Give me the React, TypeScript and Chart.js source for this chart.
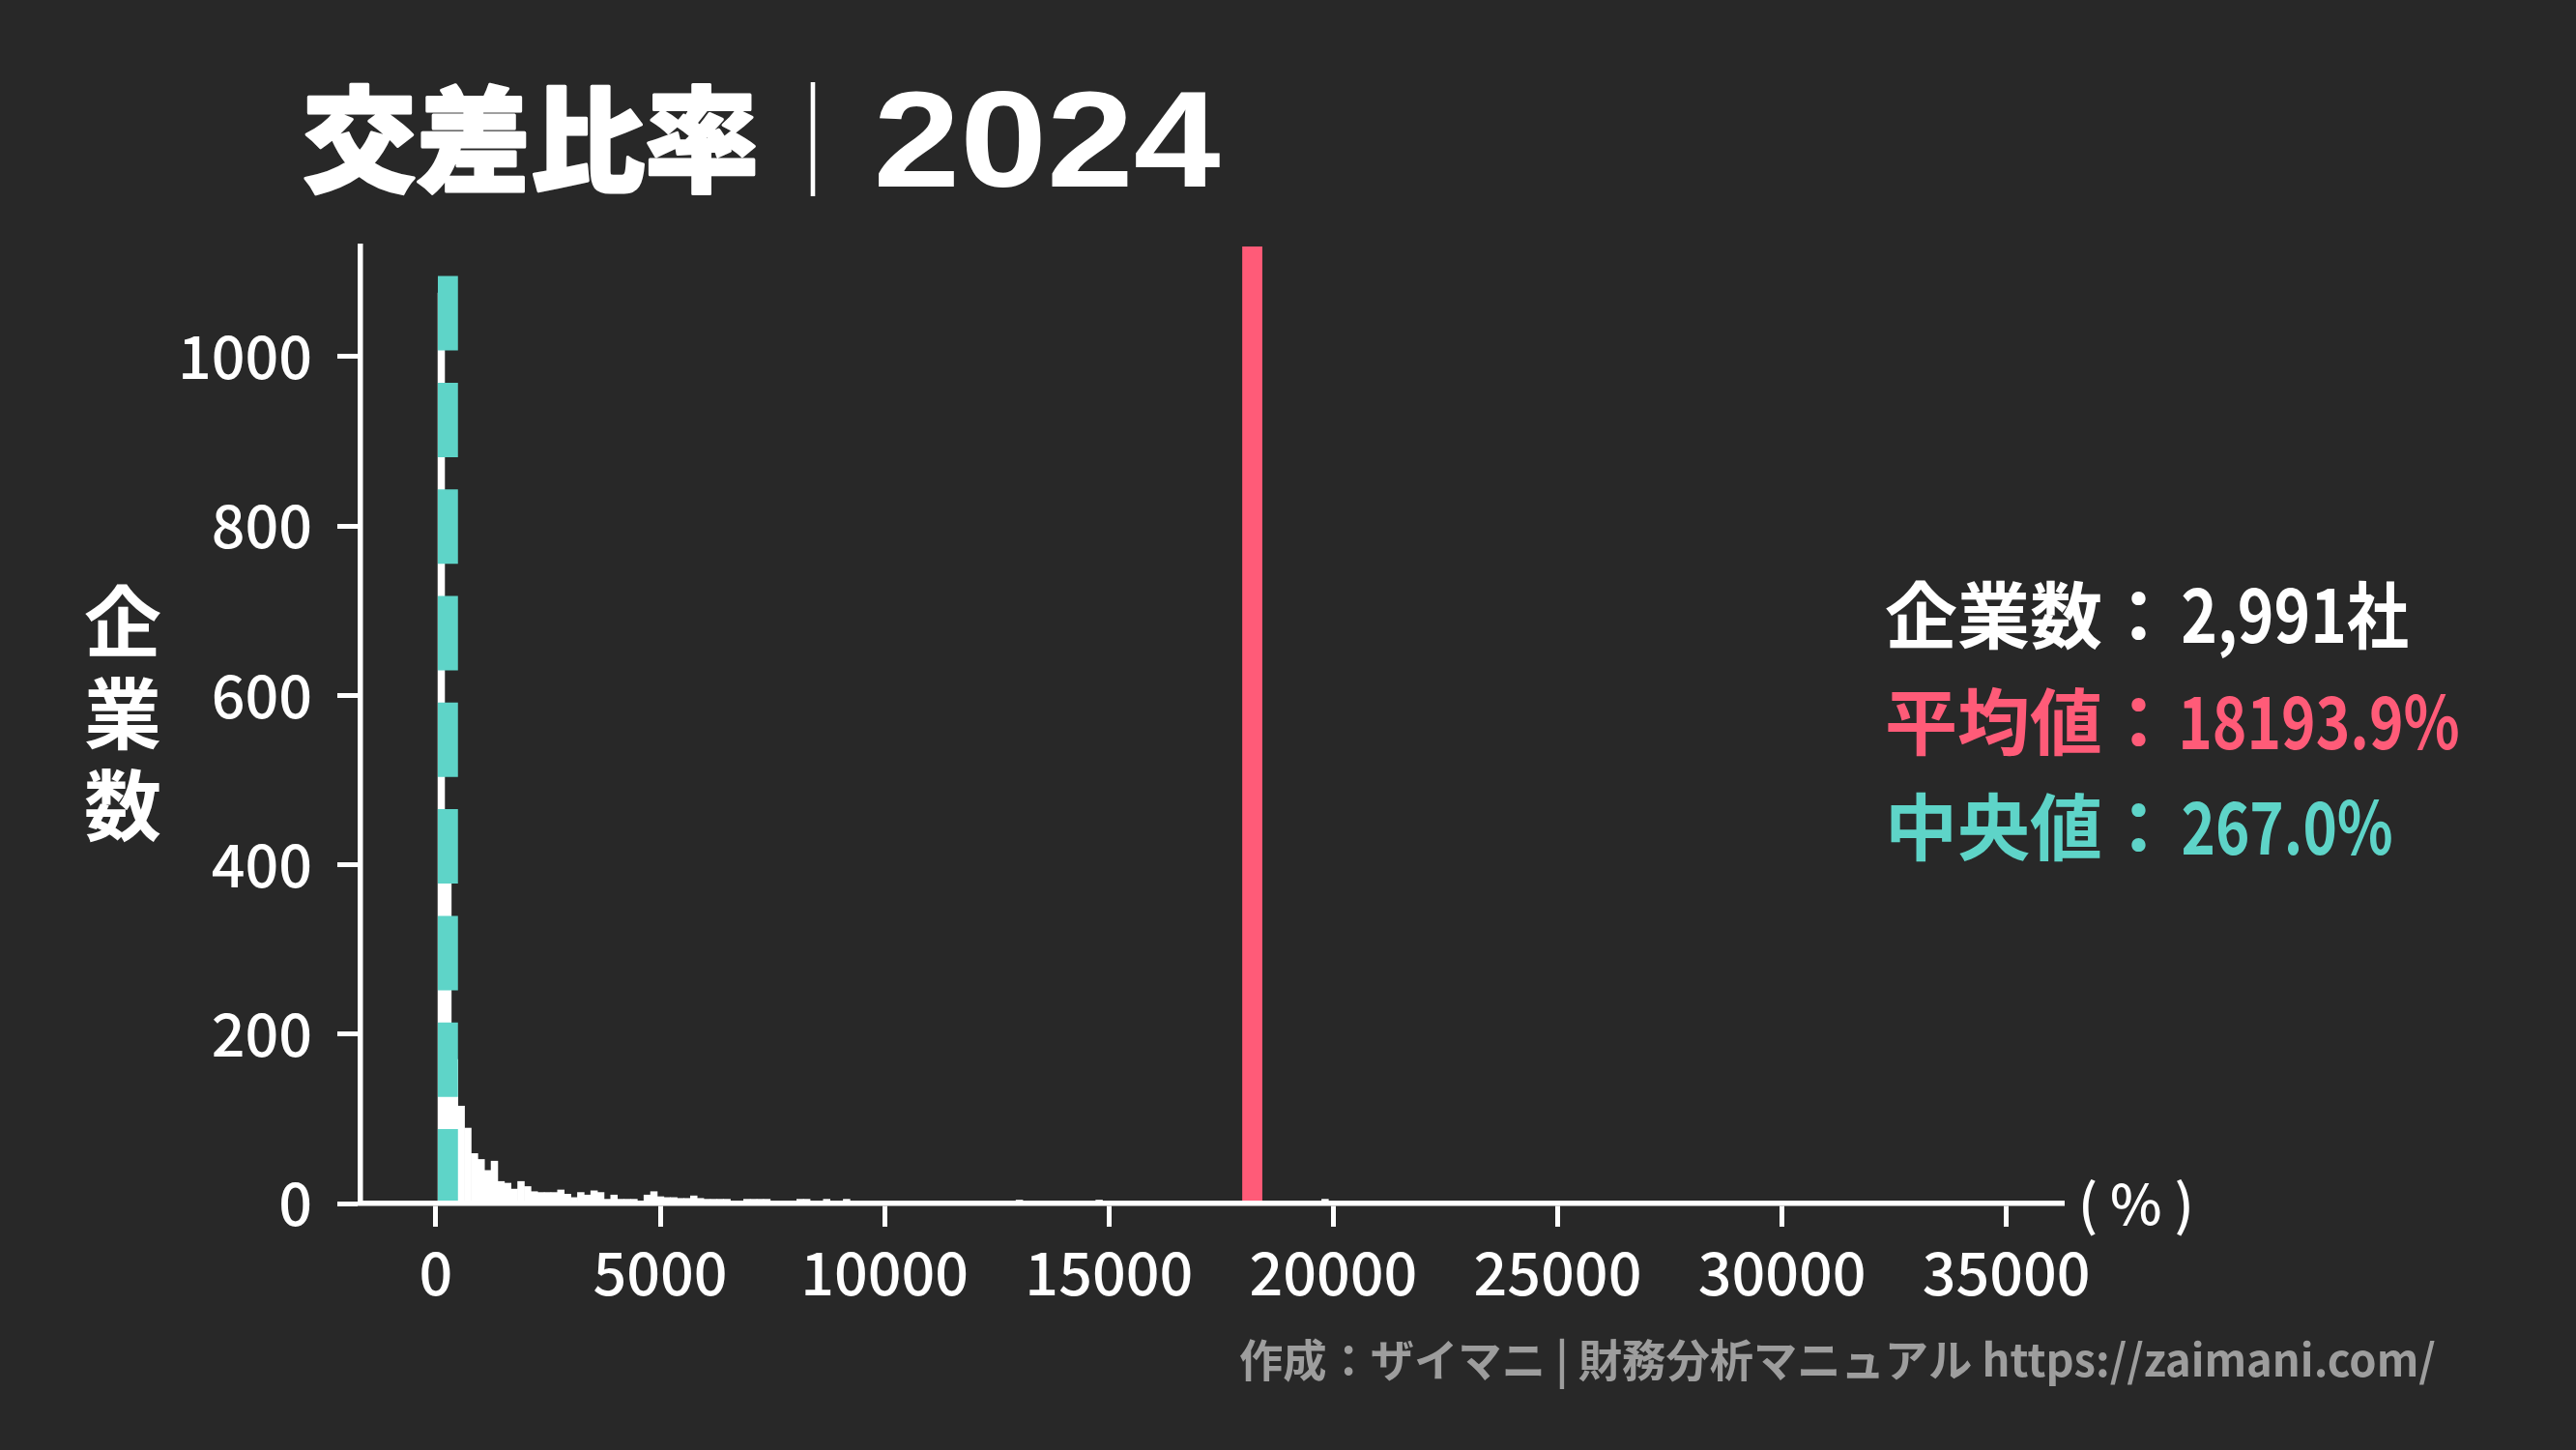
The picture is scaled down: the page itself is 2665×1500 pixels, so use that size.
import React, { useEffect, useRef } from 'react';
import { Chart, registerables } from 'chart.js';

Chart.register(...registerables);

// ---------------- data ----------------
const titleText = '交差比率｜2024';
const yAxisTitle = '企業数';
const xAxisUnit = '( % )';
const footerText = '作成：ザイマニ | 財務分析マニュアル https://zaimani.com/';

const binStart = 45; // left edge of the first histogram bin (%)
const binWidth = 148.1; // width of one bin (%)
const binCounts = [
  // 0-9
  1075, 460, 170, 115, 89, 59, 52, 39, 50, 26,
  // 10-19
  24, 17, 26, 20, 14, 13, 13, 13, 16, 11,
  // 20-29
  7, 13, 10, 15, 13, 5, 10, 5, 5, 5,
  // 30-39
  3, 10, 14, 8, 7, 7, 6, 6, 9, 6,
  // 40-49
  5, 5, 5, 5, 3, 3, 5, 5, 5, 5,
  // 50-59
  3, 3, 3, 2, 5, 5, 2, 3, 5, 2,
  // 60-69
  2, 5, 3, 3, 3, 3, 3, 3, 2, 1,
  // 70-79
  3, 2, 1, 2, 3, 3, 2, 1, 2, 1,
  // 80-89
  3, 1, 2, 1, 1, 2, 2, 4, 1, 2,
  // 90-99
  1, 0, 2, 1, 1, 2, 1, 0, 1, 4,
  // 100-109
  3, 3, 1, 0, 1, 2, 1, 3, 0, 1,
  // 110-119
  1, 0, 1, 0, 0, 1, 0, 1, 0, 0,
  // 120-129
  1, 0, 1, 0, 0, 0, 1, 0, 0, 1,
  // 130-139
  0, 0, 0, 5, 0, 0, 1, 0, 0, 0,
  // 140-149
  0, 1, 0, 0, 0, 0, 0, 1, 0, 0,
  // 150-159
  0, 0, 0, 0, 1, 0, 0, 0, 0, 0,
  // 160-169
  0, 0, 1, 0, 0, 0, 0, 0, 0, 3,
  // 170-179
  0, 0, 0, 0, 0, 1, 0, 0, 0, 0,
  // 180-189
  0, 0, 0, 0, 0, 0, 0, 0, 1, 0,
  // 190-199
  0, 0, 0, 0, 0, 0, 0, 0, 0, 0,
  // 200-209
  0, 0, 1, 0, 0, 0, 0, 0, 0, 0,
  // 210-219
  0, 0, 0, 0, 0, 0, 0, 0, 0, 0,
  // 220-229
  0, 0, 0, 3, 0, 0, 0, 0, 0, 0,
  // 230-232
  0, 0, 1,
];

const companyCount = 2991;
const meanValue = 18193.9;
const medianValue = 267.0;

const xTickValues = [0, 5000, 10000, 15000, 20000, 25000, 30000, 35000];
const yTickValues = [0, 200, 400, 600, 800, 1000];
const xMin = -1680;
const xMax = 36278;
const yMin = 0;
const yMax = 1130;

const statLabels = ['企業数：', '平均値：', '中央値：'];
const statValues = [
  `${companyCount.toLocaleString('en-US')}社`,
  `${meanValue.toFixed(1)}%`,
  `${medianValue.toFixed(1)}%`,
];

// ---------------- styles ----------------
const BG = '#282828';
const WHITE = '#ffffff';
const PINK = '#ff5b78';
const TEAL = '#5ed4c8';
const GRAY = '#9d9d9d';
const FONT = '"Noto Sans CJK JP", "Noto Sans", sans-serif';
const statColors = [WHITE, PINK, TEAL];

function fitText(
  ctx: CanvasRenderingContext2D,
  text: string,
  inkLeft: number,
  inkRight: number,
  baseline: number,
  font: string,
  color: string,
) {
  ctx.save();
  ctx.font = font;
  ctx.fillStyle = color;
  ctx.textAlign = 'left';
  ctx.textBaseline = 'alphabetic';
  const m = ctx.measureText(text);
  const inkW = m.actualBoundingBoxLeft + m.actualBoundingBoxRight;
  const sx = (inkRight - inkLeft) / inkW;
  ctx.translate(inkLeft + sx * m.actualBoundingBoxLeft, baseline);
  ctx.scale(sx, 1);
  ctx.fillText(text, 0, 0);
  ctx.restore();
}

const decorPlugin = {
  id: 'decor',
  beforeDraw(chart: any) {
    const { ctx, width, height } = chart;
    ctx.save();
    ctx.fillStyle = BG;
    ctx.fillRect(0, 0, width, height);
    ctx.restore();
  },
  afterDatasetsDraw(chart: any) {
    const { ctx, chartArea, scales } = chart;
    const xs = scales.x;
    ctx.save();
    ctx.lineCap = 'butt';
    ctx.lineWidth = 20.8;
    // mean line
    const xm = xs.getPixelForValue(meanValue);
    ctx.strokeStyle = PINK;
    ctx.beginPath();
    ctx.moveTo(xm, chartArea.bottom);
    ctx.lineTo(xm, chartArea.top);
    ctx.stroke();
    // median line (dashed)
    const xd = xs.getPixelForValue(medianValue);
    ctx.strokeStyle = TEAL;
    ctx.setLineDash([77, 33.3]);
    ctx.beginPath();
    ctx.moveTo(xd, chartArea.bottom);
    ctx.lineTo(xd, chartArea.top);
    ctx.stroke();
    ctx.restore();
  },
  afterDraw(chart: any) {
    const { ctx } = chart;
    const [titleMain, titleYear] = titleText.split('｜');

    // title
    ctx.save();
    ctx.fillStyle = WHITE;
    ctx.strokeStyle = WHITE;
    ctx.textBaseline = 'alphabetic';
    ctx.textAlign = 'left';
    ctx.font = `900 118px ${FONT}`;
    ctx.lineWidth = 3;
    ctx.lineJoin = 'round';
    ctx.fillText(titleMain, 313, 189);
    ctx.strokeText(titleMain, 313, 189);
    ctx.font = `300 118px ${FONT}`;
    ctx.textAlign = 'center';
    ctx.fillText('｜', 841, 189);
    ctx.restore();
    fitText(ctx, titleYear, 908, 1262, 193, `bold 141px "Liberation Sans", Arial, sans-serif`, WHITE);

    // y axis title (stacked vertically)
    ctx.save();
    ctx.fillStyle = WHITE;
    ctx.font = `bold 80px ${FONT}`;
    ctx.textAlign = 'center';
    ctx.textBaseline = 'alphabetic';
    const chars = Array.from(yAxisTitle);
    chars.forEach((c, i) => {
      ctx.fillText(c, 127, 643 + i * 95 + 30);
    });
    ctx.restore();

    // x axis unit
    ctx.save();
    ctx.fillStyle = WHITE;
    ctx.font = `500 57px ${FONT}`;
    ctx.textAlign = 'left';
    ctx.textBaseline = 'alphabetic';
    ctx.fillText(xAxisUnit, 2150, 1267);
    ctx.restore();

    // stats block
    const valueEnds = [2491, 2543, 2474];
    const centers = [636, 746, 855];
    statLabels.forEach((label, i) => {
      const base = centers[i] + 28.5;
      ctx.save();
      ctx.fillStyle = statColors[i];
      ctx.font = `bold 75px ${FONT}`;
      ctx.textAlign = 'left';
      ctx.textBaseline = 'alphabetic';
      ctx.fillText(label, 1950, base);
      ctx.restore();
      fitText(ctx, statValues[i], 2258, valueEnds[i], base, `600 75px ${FONT}`, statColors[i]);
    });

    // footer
    fitText(ctx, footerText, 1283, 2519, 1424, `bold 46px ${FONT}`, GRAY);
  },
};

export default function App() {
  const canvasRef = useRef<HTMLCanvasElement | null>(null);

  useEffect(() => {
    document.body.style.margin = '0';
    document.body.style.background = BG;
    const canvas = canvasRef.current;
    if (!canvas) return;

    const barData = binCounts.map((c, i) => ({ x: binStart + (i + 0.5) * binWidth, y: c }));

    const chart = new Chart(canvas, {
      type: 'bar',
      data: {
        datasets: [
          {
            data: barData as any,
            backgroundColor: WHITE,
            borderWidth: 0,
            barPercentage: 1,
            categoryPercentage: 1,
          },
        ],
      },
      options: {
        responsive: false,
        animation: false,
        devicePixelRatio: 1,
        layout: { padding: { top: 255, right: 530, bottom: 0, left: 0 } },
        plugins: {
          legend: { display: false },
          tooltip: { enabled: false },
          title: { display: false },
        },
        scales: {
          x: {
            type: 'linear',
            min: xMin,
            max: xMax,
            offset: false,
            afterFit: (s: any) => {
              s.height = 255;
            },
            afterBuildTicks: (s: any) => {
              s.ticks = xTickValues.map((v) => ({ value: v }));
            },
            grid: {
              display: true,
              drawOnChartArea: false,
              drawTicks: true,
              tickLength: 24,
              tickWidth: 5,
              color: WHITE,
              tickColor: WHITE,
              offset: false,
            },
            border: { display: true, color: WHITE, width: 5.5, z: 1 },
            ticks: {
              color: WHITE,
              font: { family: FONT, size: 61, weight: '500' },
              padding: 11,
              maxRotation: 0,
              autoSkip: false,
              callback: (v: any) => String(v),
            },
          },
          y: {
            type: 'linear',
            min: yMin,
            max: yMax,
            afterFit: (s: any) => {
              s.width = 373;
            },
            afterBuildTicks: (s: any) => {
              s.ticks = yTickValues.map((v) => ({ value: v }));
            },
            grid: {
              display: true,
              drawOnChartArea: false,
              drawTicks: true,
              tickLength: 24,
              tickWidth: 5,
              color: WHITE,
              tickColor: WHITE,
            },
            border: { display: true, color: WHITE, width: 5.5, z: 1 },
            ticks: {
              color: WHITE,
              font: { family: FONT, size: 61, weight: '500' },
              padding: 26,
              autoSkip: false,
              callback: (v: any) => String(v),
            },
          },
        },
      } as any,
      plugins: [decorPlugin],
    });

    return () => {
      chart.destroy();
    };
  }, []);

  return (
    <div style={{ position: 'fixed', left: 0, top: 0, width: 2665, height: 1500, background: BG }}>
      <canvas ref={canvasRef} width={2665} height={1500} style={{ display: 'block', width: 2665, height: 1500 }} />
    </div>
  );
}
